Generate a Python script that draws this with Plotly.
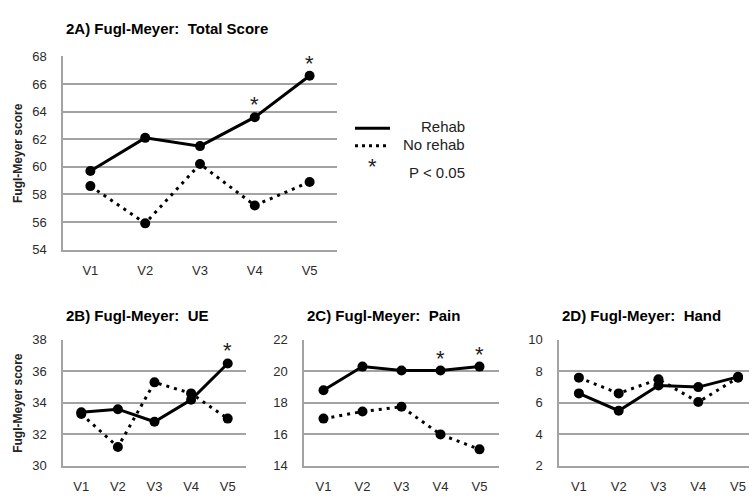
import plotly.graph_objects as go

W, H = 749, 504

visits = ["V1", "V2", "V3", "V4", "V5"]

# Fugl-Meyer panels: mean scores per visit
total_rehab = [59.7, 62.1, 61.5, 63.6, 66.6]
total_norehab = [58.6, 55.9, 60.2, 57.2, 58.9]
total_sig = [False, False, False, True, True]

ue_rehab = [33.4, 33.6, 32.8, 34.2, 36.5]
ue_norehab = [33.3, 31.2, 35.3, 34.6, 33.0]
ue_sig = [False, False, False, False, True]

pain_rehab = [18.8, 20.3, 20.05, 20.05, 20.3]
pain_norehab = [17.0, 17.45, 17.75, 16.0, 15.05]
pain_sig = [False, False, False, True, True]

hand_rehab = [6.6, 5.5, 7.1, 7.0, 7.65]
hand_norehab = [7.6, 6.6, 7.5, 6.05, 7.6]
hand_sig = [False, False, False, False, False]

titles = ["2A) Fugl-Meyer:  Total Score", "2B) Fugl-Meyer:  UE",
          "2C) Fugl-Meyer:  Pain", "2D) Fugl-Meyer:  Hand"]
y_ranges = [(54, 68), (30, 38), (14, 22), (2, 10)]
legend_labels = ["Rehab", "No rehab", "P < 0.05"]

FONT = "Arial, Liberation Sans, sans-serif"
GRID = "#a3a3a3"
TXT = "#2b2b2b"


def px(x):
    return x / W


def py(y):
    return 1 - y / H


# panel boxes in pixels: (left, right, top, bottom)
boxes = [(63, 337, 51, 250), (63, 246, 343, 473), (304, 499, 343, 473), (559, 749, 343, 473)]
x_ranges = [(-0.5, 4.5), (-0.5, 4.5), (-0.5, 4.5), (-0.5, 4.275)]
title_y = [22, 318, 318, 318]

panels = [
    (total_rehab, total_norehab, total_sig),
    (ue_rehab, ue_norehab, ue_sig),
    (pain_rehab, pain_norehab, pain_sig),
    (hand_rehab, hand_norehab, hand_sig),
]

fig = go.Figure()
annotations = []
shapes = []

for i, ((rehab, norehab, sig), box, yr, xr, title, ty) in enumerate(
        zip(panels, boxes, y_ranges, x_ranges, titles, title_y)):
    n = "" if i == 0 else str(i + 1)
    xa, ya = "x" + n, "y" + n
    l, r, t, b = box
    fig.add_trace(go.Scatter(
        x=visits, y=norehab, xaxis=xa, yaxis=ya, mode="lines+markers",
        line=dict(color="black", width=3, dash="3px,5px"),
        marker=dict(color="black", size=10), showlegend=False))
    fig.add_trace(go.Scatter(
        x=visits, y=rehab, xaxis=xa, yaxis=ya, mode="lines+markers",
        line=dict(color="black", width=3),
        marker=dict(color="black", size=10), showlegend=False))

    fig.layout["xaxis" + n] = dict(
        domain=[px(l), px(r)], anchor=ya, type="category",
        range=list(xr), showgrid=False, zeroline=False,
        showline=True, linecolor=GRID, linewidth=1.5,
        ticks="", ticklabelstandoff=8,
        tickfont=dict(family=FONT, size=13, color=TXT), fixedrange=True)
    fig.layout["yaxis" + n] = dict(
        domain=[py(b), py(t)], anchor=xa, range=list(yr), dtick=2,
        showgrid=True, gridcolor=GRID, gridwidth=1.5, zeroline=False,
        showline=True, linecolor=GRID, linewidth=1.5,
        ticks="", ticklabelstandoff=12,
        tickfont=dict(family=FONT, size=13, color=TXT), fixedrange=True)

    # significance markers above the rehab series
    for v, val, s in zip(visits, rehab, sig):
        if s:
            annotations.append(dict(
                x=v, y=val, xref=xa, yref=ya, text="*", showarrow=False,
                yanchor="bottom", yshift=-2,
                font=dict(family=FONT, size=22, color="#222")))

    # panel title
    annotations.append(dict(
        x=px(l + 1), y=py(ty), xref="paper", yref="paper",
        xanchor="left", yanchor="middle", text="<b>%s</b>" % title,
        showarrow=False, font=dict(family=FONT, size=15, color="black")))

# y-axis titles
for (l, r, t, b) in (boxes[0], boxes[1]):
    annotations.append(dict(
        x=px(18), y=py((t + b) / 2), xref="paper", yref="paper",
        text="<b>Fugl-Meyer score</b>", textangle=-90, showarrow=False,
        xanchor="center", yanchor="middle",
        font=dict(family=FONT, size=12, color="#222")))

# legend
shapes.append(dict(type="line", xref="paper", yref="paper",
                   x0=px(355), x1=px(390), y0=py(125), y1=py(125),
                   line=dict(color="black", width=3)))
shapes.append(dict(type="line", xref="paper", yref="paper",
                   x0=px(355), x1=px(390), y0=py(143), y1=py(143),
                   line=dict(color="black", width=3, dash="3px,4px")))
annotations.append(dict(x=px(372), y=py(164), xref="paper", yref="paper",
                        text="*", showarrow=False, xanchor="center", yanchor="middle",
                        font=dict(family=FONT, size=22, color="#222")))
for lbl, yy in zip(legend_labels, (123, 142, 171)):
    annotations.append(dict(x=px(467), y=py(yy), xref="paper", yref="paper",
                            text=lbl, showarrow=False, xanchor="right", yanchor="middle",
                            font=dict(family=FONT, size=15, color="#222")))

fig.update_layout(
    width=W, height=H, margin=dict(l=0, r=0, t=0, b=0),
    paper_bgcolor="white", plot_bgcolor="white",
    annotations=annotations, shapes=shapes, showlegend=False,
)

fig.write_html("out.html", config=dict(displayModeBar=False))
